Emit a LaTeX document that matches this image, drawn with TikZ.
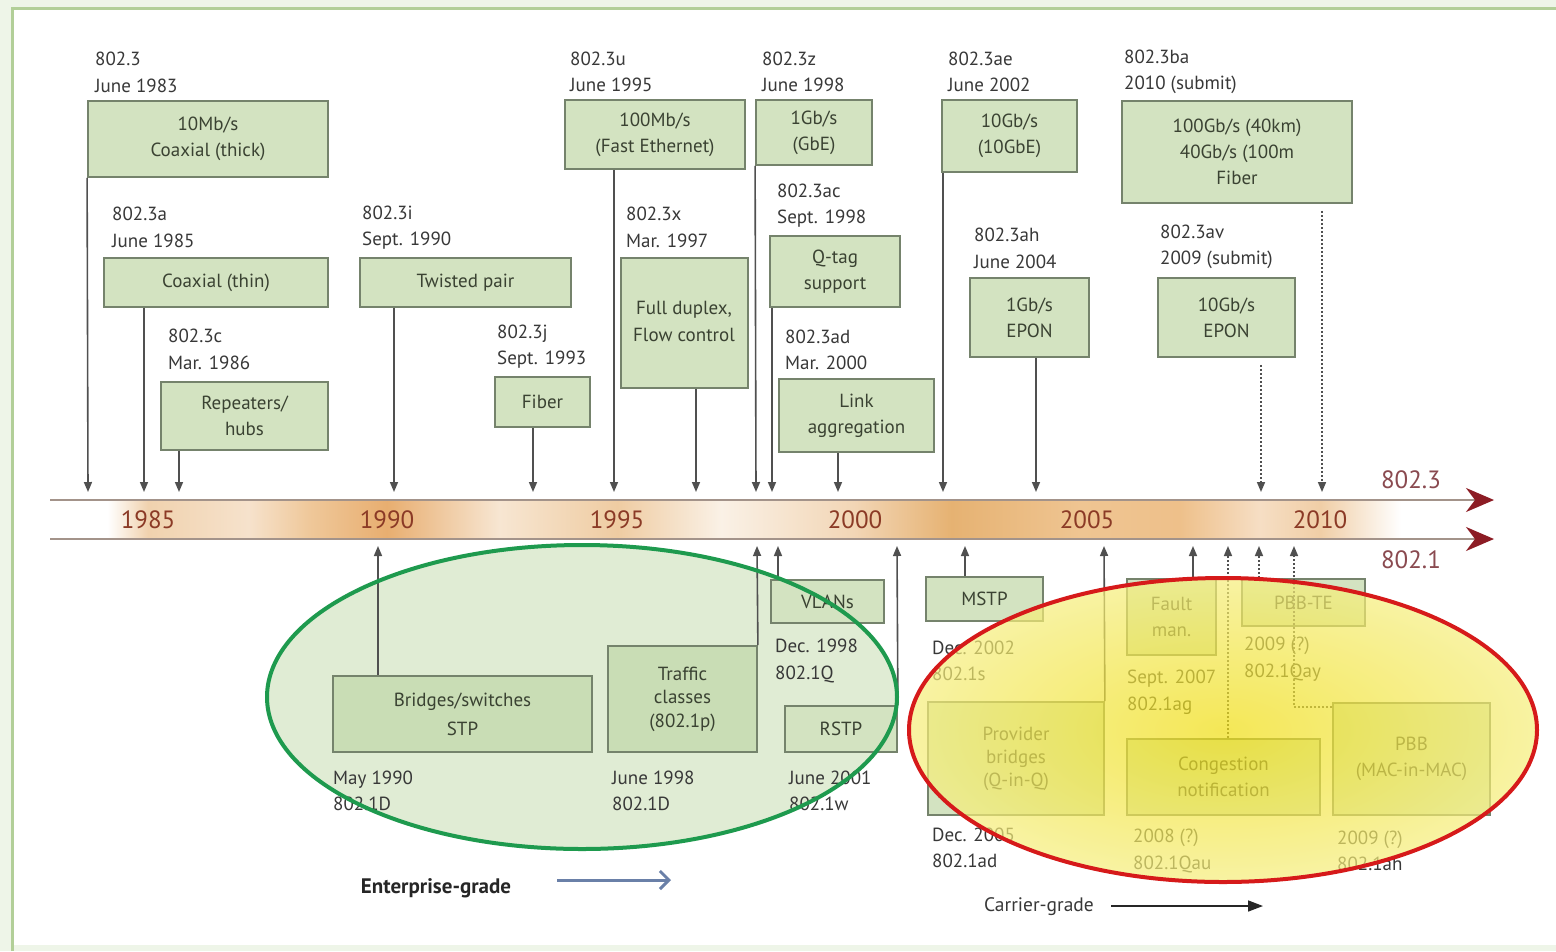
\documentclass[tikz,border=0pt]{standalone}
\usepackage{fontspec}
\setmainfont{PT Sans}
\usetikzlibrary{arrows.meta,shapes.geometric}
\definecolor{boxfill}{HTML}{D3E3C1}
\definecolor{boxfillent}{HTML}{C9DDB5}
\definecolor{boxdraw}{HTML}{75836C}
\definecolor{txt}{HTML}{383838}
\definecolor{boxtxt}{HTML}{3A4232}
\definecolor{linecol}{HTML}{505050}
\definecolor{framecol}{HTML}{B2CF98}
\definecolor{framebg}{HTML}{EEF5E8}
\definecolor{tlline}{HTML}{A3938A}
\definecolor{tlred}{HTML}{8C1C24}
\definecolor{yearcol}{HTML}{8B3A26}
\definecolor{stdcol}{HTML}{8A4A50}
\definecolor{entgreen}{HTML}{1E9A4E}
\definecolor{entfill}{HTML}{E0ECD4}
\definecolor{carred}{HTML}{D61A1A}
\definecolor{caryin}{HTML}{F0DE10}
\definecolor{caryout}{HTML}{F6EE7C}
\definecolor{entarrow}{HTML}{6A80A8}
\definecolor{BA}{HTML}{F0D2AE}
\definecolor{BB}{HTML}{F6E2CC}
\definecolor{BC}{HTML}{EFC89A}
\definecolor{BD}{HTML}{E8AE70}
\definecolor{BE}{HTML}{F7E6D2}
\definecolor{BF}{HTML}{EFCCA2}
\definecolor{BG}{HTML}{FAF1E6}
\definecolor{BH}{HTML}{F2D6B6}
\definecolor{BI}{HTML}{E6B272}
\definecolor{BJ}{HTML}{EFC592}
\definecolor{BK}{HTML}{EEC08A}
\definecolor{BL}{HTML}{F6DEC4}
\definecolor{BM}{HTML}{F0CEA6}
\pgfdeclarehorizontalshading{band}{100bp}{color(0bp)=(white); color(25bp)=(white); color(27bp)=(white); color(28.4bp)=(BA); color(31.9bp)=(BB); color(34bp)=(BC); color(36.7bp)=(BD); color(40.6bp)=(BE); color(44.7bp)=(BF); color(48.3bp)=(BG); color(52.9bp)=(BH); color(56.3bp)=(BI); color(60.8bp)=(BJ); color(64.2bp)=(BK); color(67bp)=(BL); color(69.1bp)=(BM); color(71.9bp)=(white); color(75bp)=(white); color(100bp)=(white)}
\newcommand\bx[7][]{\node[box,#1,minimum width={#5-#3},minimum height={#6-#4}] (#2) at ({(#3+#5)/2},{(#4+#6)/2}) {#7};}
\newcommand\lb[4]{\node[lbl] (#1) at (#2,#3) {#4};}
\tikzset{
  box/.style={draw=boxdraw, fill=boxfill, line width=1.8pt, inner sep=0pt, align=center,
    text=boxtxt, font=\fontsize{19}{26}\selectfont},
  btxt/.style={inner sep=0pt, align=center, text=boxtxt, font=\fontsize{19}{27}\selectfont},
  lbl/.style={anchor=west, inner sep=0pt, yshift=-2pt, align=left, text=txt, font=\fontsize{19}{26.5}\selectfont},
  arr/.style={draw=linecol, line width=1.6pt, -{Triangle[length=10pt,width=8pt]}},
  darr/.style={arr, dash pattern=on 2pt off 2pt},
  tl/.style={draw=tlline, line width=2.5pt, -{Stealth[length=28pt,width=24pt,inset=9pt,color=tlred]}},
  year/.style={inner sep=0pt, text=yearcol, font=\fontsize{25}{25}\selectfont},
  std/.style={inner sep=0pt, text=stdcol, font=\fontsize{25}{25}\selectfont}
}
\begin{document}
\begin{tikzpicture}[x=1pt,y=-1pt]
\useasboundingbox (0,0) rectangle (1556,951);
\fill[framebg] (0,0) rectangle (1556,951);
\fill[white] (12,8) rectangle (1556,945);
\draw[framecol, line width=3pt] (12,951) -- (12,8) -- (1556,8);

% timeline band
\path[shading=band] (50,501) rectangle (1490,538);
\coordinate (u0) at (50,500);
\coordinate (u1) at (1494,500);
\coordinate (d0) at (50,539);
\coordinate (d1) at (1494,539);
\draw[tl] (u0) -- (u1);
\draw[tl] (d0) -- (d1);
\node[year] (y85) at (148,520) {1985};
\node[year] (y90) at (387,520) {1990};
\node[year] (y95) at (617,520) {1995};
\node[year] (y00) at (855,520) {2000};
\node[year] (y05) at (1087,520) {2005};
\node[year] (y10) at (1320,520) {2010};
\node[std] (s3) at (1411,480) {802.3};
\node[std] (s1) at (1411,560) {802.1};

% top boxes
\bx{b1}{88}{101}{328}{177}{10Mb/s\\Coaxial (thick)}
\bx{b2}{104}{258}{328}{307}{Coaxial (thin)}
\bx{b3}{161}{382}{328}{450}{Repeaters/\\hubs}
\bx{b4}{360}{258}{571}{307}{Twisted pair}
\bx{b5}{495}{377}{590}{427}{Fiber}
\bx{b6}{565}{100}{745}{169}{100Mb/s\\(Fast Ethernet)}
\bx{b7}{621}{258}{748}{388}{}
\node[btxt] (b7t) at (684,321) {Full duplex,\\Flow control};
\bx{b8}{756}{100}{872}{165}{1Gb/s\\(GbE)}
\bx{b9}{770}{236}{900}{307}{Q-tag\\support}
\bx{b10}{779}{379}{934}{452}{Link\\aggregation}
\bx{b11}{942}{100}{1077}{172}{10Gb/s\\(10GbE)}
\bx{b12}{970}{278}{1089}{357}{1Gb/s\\EPON}
\bx{b13}{1122}{101}{1352}{203}{100Gb/s (40km)\\40Gb/s (100m\\Fiber}
\bx{b14}{1158}{278}{1295}{357}{10Gb/s\\EPON}

% top labels
\lb{l1}{95}{70.5}{802.3\\June 1983}
\lb{l2}{112}{225.5}{802.3a\\June 1985}
\lb{l3}{168}{347.5}{802.3c\\Mar. 1986}
\lb{l4}{362}{225.5}{802.3i\\Sept. 1990}
\lb{l5}{497}{344.5}{802.3j\\Sept. 1993}
\lb{l6}{570}{70}{802.3u\\June 1995}
\lb{l7}{626}{225.5}{802.3x\\Mar. 1997}
\lb{l8}{762}{70}{802.3z\\June 1998}
\lb{l9}{777}{203.5}{802.3ac\\Sept. 1998}
\lb{l10}{785}{348}{802.3ad\\Mar. 2000}
\lb{l11}{948}{70}{802.3ae\\June 2002}
\lb{l12}{974}{246.5}{802.3ah\\June 2004}
\lb{l13}{1124}{70}{802.3ba\\2010 (submit)}
\lb{l14}{1160}{245}{802.3av\\2009 (submit)}

% top arrow tips
\coordinate (a1) at (88,492);
\coordinate (a2) at (144,492);
\coordinate (a3) at (179,492);
\coordinate (a4) at (394,492);
\coordinate (a5) at (533,492);
\coordinate (a6) at (614,492);
\coordinate (a7) at (696,492);
\coordinate (a8) at (756,492);
\coordinate (a9) at (772,492);
\coordinate (a10) at (838,492);
\coordinate (a11) at (943,492);
\coordinate (a12) at (1036,492);
\coordinate (a13) at (1322,492);
\coordinate (a14) at (1261,492);
\draw[arr] (b1.south west) -- (a1);
\draw[arr] (b2.south -| a2) -- (a2);
\draw[arr] (b3.south -| a3) -- (a3);
\draw[arr] (b4.south -| a4) -- (a4);
\draw[arr] (b5.south -| a5) -- (a5);
\draw[arr] (b6.south -| a6) -- (a6);
\draw[arr] (b7.south -| a7) -- (a7);
\draw[arr] (b8.south west) -- (a8);
\draw[arr] (b9.south -| a9) -- (a9);
\draw[arr] (b10.south -| a10) -- (a10);
\draw[arr] (b11.south -| a11) -- (a11);
\draw[arr] (b12.south -| a12) -- (a12);
\draw[darr, shorten <=7pt] (b13.south -| a13) -- (a13);
\draw[darr, shorten <=7pt] (b14.south -| a14) -- (a14);

% enterprise ellipse fill (behind)
\fill[entfill] (582,697) ellipse [x radius=315, y radius=152];

% lower boxes
\bx[fill=boxfillent]{br}{333}{676}{592}{752}{Bridges/switches\\[3pt]STP}
\bx[fill=boxfillent]{tc}{608}{646}{757}{752}{Traffic\\[-3pt]classes\\[-2pt](802.1p)}
\bx{vl}{771}{580}{884}{623}{VLANs}
\bx{rs}{785}{706}{897}{752}{RSTP}
\bx{ms}{926}{577}{1043}{621}{MSTP}
\bx{pb}{928}{702}{1104}{815}{Provider\\[-3pt]bridges\\[-3pt](Q-in-Q)}
\bx{fm}{1127}{579}{1216}{655}{Fault\\man.}
\bx{pt}{1242}{579}{1365}{626}{PBB-TE}
\bx{cn}{1127}{739}{1320}{815}{Congestion\\notification}
\bx{pbb}{1333}{703}{1490}{815}{PBB\\(MAC-in-MAC)}

% lower labels
\lb{m1}{333}{789}{May 1990\\802.1D}
\lb{m2}{612}{789}{June 1998\\802.1D}
\lb{m3}{775}{659}{Dec. 1998\\802.1Q}
\lb{m4}{789}{789}{June 2001\\802.1w}
\lb{m5}{932}{659}{Dec. 2002\\802.1s}
\lb{m6}{932}{846}{Dec. 2005\\802.1ad}
\lb{m7}{1127}{690}{Sept. 2007\\802.1ag}
\lb{m8}{1244}{657}{2009 (?)\\802.1Qay}
\lb{m9}{1133}{849}{2008 (?)\\802.1Qau}
\lb{m10}{1337}{849}{2009 (?)\\802.1ah}

% lower arrow tips
\coordinate (c1) at (378,546);
\coordinate (c2) at (757,546);
\coordinate (c3) at (778,546);
\coordinate (c4) at (897,546);
\coordinate (c5) at (965,546);
\coordinate (c6) at (1104,546);
\coordinate (c7) at (1193,546);
\coordinate (c8) at (1228,546);
\coordinate (c9) at (1259,546);
\coordinate (c10) at (1294,546);
\coordinate (k10) at (1294,707);
\draw[arr] (br.north -| c1) -- (c1);
\draw[arr] (tc.north east) -- (c2);
\draw[arr] (vl.north -| c3) -- (c3);
\draw[arr] (rs.north east) -- (c4);
\draw[arr] (ms.north -| c5) -- (c5);
\draw[arr] (pb.north east) -- (c6);
\draw[arr] (fm.north -| c7) -- (c7);
\draw[darr] (cn.north -| c8) -- (c8);
\draw[darr] (pt.north -| c9) -- (c9);
\draw[darr] (pbb.west |- k10) -- (k10) -- (c10);

% highlight ellipses
\node[ellipse, minimum width=630pt, minimum height=304pt, inner sep=0pt,
      draw=entgreen, line width=4pt] (ent) at (582,697) {};
\node[ellipse, minimum width=628pt, minimum height=304pt, inner sep=0pt,
      inner color=caryin, outer color=caryout, fill opacity=0.7, draw=carred, draw opacity=1, line width=4pt] (car) at (1223,730) {};

% grade labels
\node[inner sep=0pt, text=black!85, font=\fontsize{21}{21}\selectfont\bfseries] (eg) at (436,888) {Enterprise-grade};
\coordinate (ea) at (557,880);
\coordinate (eb) at (671,880);
\draw[draw=entarrow, line width=3pt, -{Straight Barb[length=9pt,width=18pt]}] (ea) -- (eb);
\node[inner sep=0pt, text=txt, font=\fontsize{19.5}{19.5}\selectfont] (cg) at (1039,907) {Carrier-grade};
\coordinate (ca) at (1111,906);
\coordinate (cb) at (1263,906);
\draw[draw=black!85, line width=1.6pt, -{Triangle[length=15pt,width=11pt]}] (ca) -- (cb);
\end{tikzpicture}
\end{document}
